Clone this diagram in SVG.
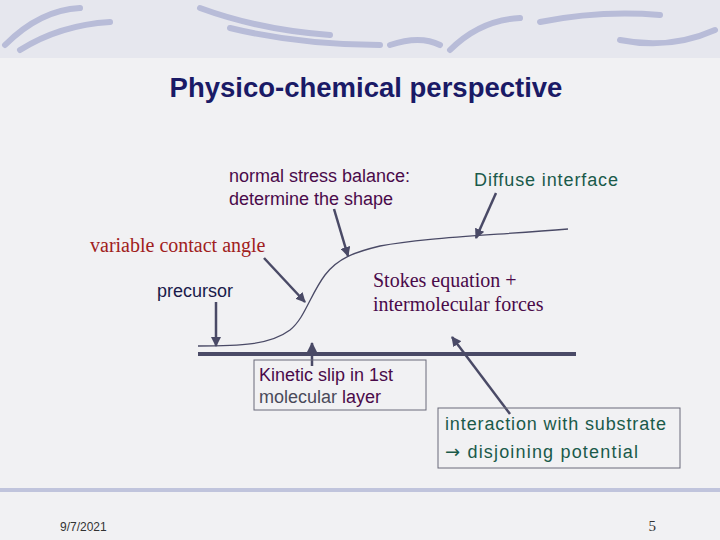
<svg xmlns="http://www.w3.org/2000/svg" width="720" height="540" viewBox="0 0 720 540">
<defs>
<marker id="ah" viewBox="0 0 10 10" refX="9" refY="5" markerWidth="4" markerHeight="4" orient="auto"><path d="M0,0 L10,5 L0,10 z" fill="#4a4a66"/></marker>
<style>
.ar{stroke:#4a4a66;stroke-width:2.5;fill:none;marker-end:url(#ah)}
.sa{font-family:"Liberation Sans",Arial,sans-serif;font-size:18px}
.se{font-family:"Liberation Serif","Times New Roman",serif;font-size:20px}
.bx{fill:none;stroke:#6a6a7a;stroke-width:1}
.deco{stroke:#b8bcd8;stroke-width:6;fill:none;stroke-linecap:round}
</style>
</defs>
<rect width="720" height="540" fill="#f1f1f3"/>
<g id="decor">
<rect width="720" height="58" fill="#e6e7ee"/>
<path class="deco" d="M5,45 Q40,10 80,8 M20,50 Q60,25 110,22 M200,8 Q260,30 330,35 M230,28 Q300,45 380,45 M390,45 Q420,35 440,45 M450,50 Q480,20 520,18 M540,22 Q600,10 660,15 M620,40 Q670,50 715,30"/>
<line x1="0" y1="490" x2="720" y2="490" stroke="#c0c4dc" stroke-width="4"/>
</g>
<text x="366" y="97" text-anchor="middle" font-family="Liberation Sans,Arial,sans-serif" font-size="27.5" font-weight="bold" fill="#1a1a66">Physico-chemical perspective</text>
<g id="substrate"><line x1="198" y1="354" x2="576" y2="354" stroke="#4a4a66" stroke-width="4"/></g>
<g id="interface"><path d="M198,346 C240,346 270,345 290,330 C305,318 310,295 325,275 C338,258 355,252 380,246 C420,238 480,236 568,229" stroke="#4a4a66" stroke-width="1.3" fill="none"/></g>
<g id="connectors">
<line class="ar" x1="334" y1="209" x2="348" y2="256"/>
<line class="ar" x1="496" y1="193" x2="476" y2="238"/>
<line class="ar" x1="264" y1="258" x2="305" y2="302"/>
<line class="ar" x1="216" y1="302" x2="216" y2="346"/>
<line class="ar" x1="312" y1="366" x2="312" y2="343"/>
<line class="ar" x1="510" y1="414" x2="452" y2="337"/>
</g>
<g id="n-normal"><text class="sa" x="229" y="182" fill="#4a0a4a" textLength="181">normal stress balance:</text><text class="sa" x="229" y="205" fill="#4a0a4a">determine the shape</text></g>
<g id="n-diffuse"><text class="sa" x="474" y="186" font-size="19.5" fill="#1a5a4a" textLength="144">Diffuse interface</text></g>
<g id="n-angle"><text class="se" x="90" y="252" fill="#a02020">variable contact angle</text></g>
<g id="n-precursor"><text class="sa" x="157" y="297" fill="#1a1a4a">precursor</text></g>
<g id="n-stokes"><text class="se" x="373" y="287" fill="#4a0a4a">Stokes equation +</text><text class="se" x="373" y="311" fill="#4a0a4a">intermolecular forces</text></g>
<g id="n-kinetic"><rect class="bx" x="254" y="360" width="172" height="50" fill="#f1f1f3"/><text class="sa" x="259" y="381" font-size="17.5" fill="#4a0a4a">Kinetic slip in 1st</text><text class="sa" x="259" y="403" font-size="17.5" fill="#4a0a4a"><tspan fill="#4a4a5a">molecular</tspan> layer</text></g>
<g id="n-interaction"><rect class="bx" x="438" y="408" width="242" height="60" fill="#f1f1f3"/><text class="sa" x="445" y="430" font-size="20.5" fill="#1a5a4a" textLength="221">interaction with substrate</text><text class="sa" x="445" y="458" font-size="20.5" fill="#1a5a4a" textLength="193"><tspan font-family="DejaVu Sans,sans-serif" font-size="18">→</tspan> disjoining potential</text></g>
<text x="60" y="531" font-family="Liberation Sans,Arial,sans-serif" font-size="12" fill="#333">9/7/2021</text>
<text x="656" y="531" text-anchor="end" font-family="Liberation Serif,serif" font-size="15" fill="#333">5</text>
</svg>
